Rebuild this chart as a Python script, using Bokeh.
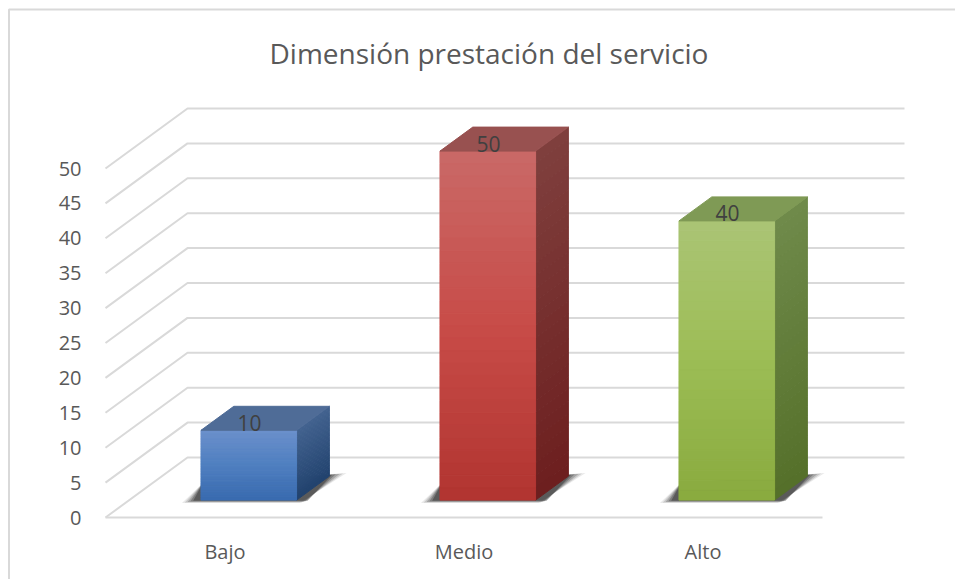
from bokeh.plotting import figure
from bokeh.embed import file_html
from bokeh.resources import INLINE
from bokeh.core.properties import value
from bokeh.models import FixedTicker

title = ["Dimensión prestación del servicio"]
categories = ["Bajo", "Medio", "Alto"]
values = [10, 50, 40]
y_ticks = [0, 5, 10, 15, 20, 25, 30, 35, 40, 45, 50]

FONT = "Open Sans"
GRID = "#d9d9d9"
# shading stops per bar: front (top, mid, bottom), side (top, bottom), top face
shades = [
    dict(front=["#6a8fcb", "#4f7fc0", "#3a6cb0"], side=["#42628f", "#22436f"], cap="#4f6c97"),
    dict(front=["#c96866", "#c84c48", "#b23531"], side=["#7f3f3d", "#6d1f1f"], cap="#985150"),
    dict(front=["#aac474", "#9cbd55", "#8aab3f"], side=["#6f8a4a", "#55702a"], cap="#7f9a55"),
]

PX_X = 239.0   # pixels per category
PX_Y = 6.98    # pixels per value unit
DX = 82 / PX_X  # depth of the 3D box, in data units
DY = 60 / PX_Y
BAR_L, BAR_W = 0.30, 0.40
D_FRONT, D_BACK = 0.29, 0.69
W, H = 955, 579
x0, x1 = -105 / PX_X, (W - 105) / PX_X
y1, y0 = 517 / PX_Y, (517 - H) / PX_Y


def hex2rgb(c):
    return [int(c[i:i + 2], 16) for i in (1, 3, 5)]


def ramp(stops, t):
    pos = t * (len(stops) - 1)
    i = min(int(pos), len(stops) - 2)
    f = pos - i
    a, b = hex2rgb(stops[i]), hex2rgb(stops[i + 1])
    return "#%02x%02x%02x" % tuple(round(a[k] + (b[k] - a[k]) * f) for k in range(3))


def proj(x, v, d):
    return x + d * DX, v + d * DY


p = figure(width=W, height=H, x_range=(x0, x1), y_range=(y0, y1),
           output_backend="svg", toolbar_location=None,
           min_border=0, min_border_left=0, min_border_right=0,
           min_border_top=0, min_border_bottom=0)
p.outline_line_color = None
p.grid.visible = False
p.background_fill_color = "white"

# chart border
p.line([x0 + 8.5 / PX_X, x0 + 8.5 / PX_X, x1], [y0, y1 - 9 / PX_Y, y1 - 9 / PX_Y],
       line_color=GRID, line_width=2)

# grid: side wall + back wall
gx, gy = [], []
for v in y_ticks:
    gx.append([0, DX, len(categories) + DX])
    gy.append([v, v + DY, v + DY])
p.multi_line(gx, gy, line_color=GRID, line_width=2)
p.line([0, len(categories)], [0, 0], line_color=GRID, line_width=2)

# bars
STRIPS = 28
for i, (val, sh) in enumerate(zip(values, shades)):
    xl = i + BAR_L
    xr = xl + BAR_W
    # floor shadow: soft layered polygon
    for k, (grow, alpha) in enumerate([(1.0, 0.10), (0.8, 0.16), (0.6, 0.22), (0.4, 0.3), (0.2, 0.4)]):
        sx = [xl + (-19 + 14 * (1 - grow)) / PX_X,
              xl + 2 / PX_X,
              xr + 32 / PX_X + (18 * grow) / PX_X,
              xr + (3 + 10 * (1 - grow)) / PX_X]
        sy = [(-3 * grow - 0) / PX_Y, 17 / PX_Y, (27 - 2 * (1 - grow)) / PX_Y, (-3 * grow) / PX_Y]
        sx = [a + D_FRONT * DX for a in sx]
        sy = [a + D_FRONT * DY for a in sy]
        p.patch(sx, sy, fill_color="#262626", fill_alpha=alpha, line_color=None)

    # front and side faces as gradient strips
    fx, fy, fc, sx, sy, sc = [], [], [], [], [], []
    for s in range(STRIPS):
        t = s / (STRIPS - 1)
        vt = val * (1 - s / STRIPS)
        vb = val * (1 - (s + 1) / STRIPS)
        a = proj(xl, vt, D_FRONT)
        b = proj(xr, vt, D_FRONT)
        c = proj(xr, vb, D_FRONT)
        d = proj(xl, vb, D_FRONT)
        fx.append([a[0], b[0], c[0], d[0]])
        fy.append([a[1], b[1], c[1], d[1]])
        fc.append(ramp(sh["front"], t))
        e = proj(xr, vt, D_BACK)
        f = proj(xr, vb, D_BACK)
        sx.append([b[0], e[0], f[0], c[0]])
        sy.append([b[1], e[1], f[1], c[1]])
        sc.append(ramp(sh["side"], t))
    p.patches(sx, sy, fill_color=sc, line_color=sc, line_width=1)
    p.patches(fx, fy, fill_color=fc, line_color=fc, line_width=1)
    # top face
    corners = [proj(xl, val, D_FRONT), proj(xr, val, D_FRONT), proj(xr, val, D_BACK), proj(xl, val, D_BACK)]
    p.patch([c[0] for c in corners], [c[1] for c in corners],
            fill_color=sh["cap"], line_color=sh["cap"], line_width=1)

# data labels
lx = [i + 0.5 + 0.30 * DX for i in range(len(values))]
ly = [v + 0.29 * DY + 7.6 / PX_Y for v in values]
p.text(lx, ly, text=[str(v) for v in values],
       text_font=value(FONT), text_font_size="21px", text_color="#404040",
       text_align="center", text_baseline="middle")

# title
p.text([(488.5 - 105) / PX_X], [(517 - 52) / PX_Y], text=title,
       text_font=value(FONT), text_font_size="28px", text_color="#595959",
       text_align="center", text_baseline="middle")

# axes placed at the chart's front plane
yax = p.yaxis[0]
yax.fixed_location = 0
yax.ticker = FixedTicker(ticks=y_ticks)
yax.axis_line_color = None
yax.major_tick_line_color = None
yax.minor_tick_line_color = None
yax.major_tick_out = 0
yax.major_tick_in = 0
yax.major_label_standoff = 24
yax.major_label_text_font = FONT
yax.major_label_text_font_size = "20px"
yax.major_label_text_color = "#595959"

xax = p.xaxis[0]
xax.fixed_location = 0
xax.ticker = FixedTicker(ticks=[i + 0.5 for i in range(len(categories))])
xax.major_label_overrides = {i + 0.5: c for i, c in enumerate(categories)}
xax.axis_line_color = None
xax.major_tick_line_color = None
xax.minor_tick_line_color = None
xax.major_tick_out = 0
xax.major_tick_in = 0
xax.major_label_standoff = 20
xax.major_label_text_font = FONT
xax.major_label_text_font_size = "20px"
xax.major_label_text_color = "#595959"

open("out.html", "w").write(file_html(p, INLINE))
